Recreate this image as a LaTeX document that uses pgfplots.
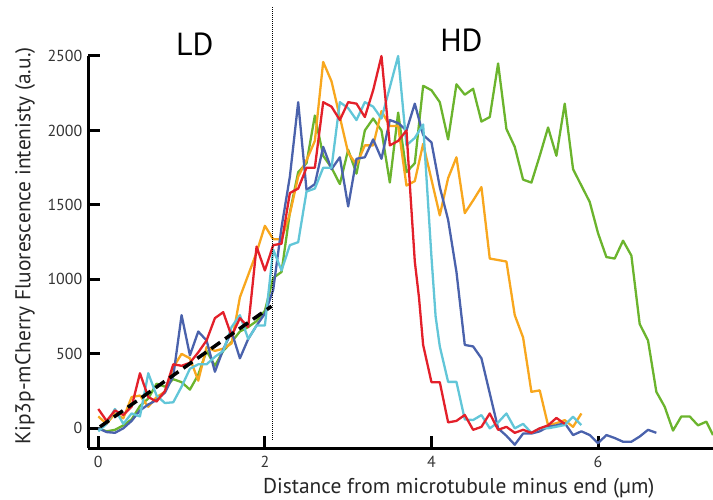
\documentclass[border=0pt]{standalone}
\usepackage{fontspec}
\setmainfont{PT Sans}
\usepackage{pgfplots}
\pgfplotsset{compat=1.18}

\definecolor{cblue}{HTML}{4A62AC}
\definecolor{cred}{HTML}{E3202A}
\definecolor{corange}{HTML}{F8A71E}
\definecolor{cgreen}{HTML}{6BB42D}
\definecolor{ccyan}{HTML}{62C6D8}
\definecolor{tickgray}{HTML}{333333}

\begin{document}
\begin{tikzpicture}
\useasboundingbox (-88.3bp,-51.7bp) rectangle (624.7bp,448.3bp);
\begin{axis}[
  at={(0,0)}, anchor=south west,
  scale only axis, width=624.7bp, height=392.3bp,
  xmin=-0.12, xmax=7.38, ymin=-134, ymax=2500,
  axis x line*=bottom, axis y line*=left,
  axis line style={line width=3bp, -, black},
  tick align=inside,
  major tick length=12bp,
  tick style={line width=3bp, black},
  xtick={0,2,4,6}, ytick={0,500,1000,1500,2000,2500},
  minor tick num=0,
  /pgf/number format/assume math mode=true,
  /pgf/number format/1000 sep={},
  tick label style={font=\fontsize{16}{16}\selectfont, text=tickgray},
  yticklabel style={xshift=-2.5bp},
  xticklabel style={yshift=-4bp},
  xlabel={Distance from microtubule minus end (µm)},
  ylabel={Kip3p-mCherry Fluorescence intenisty (a.u.)},
  label style={font=\fontsize{21.5}{21.5}\selectfont, text=black!85},
  xlabel style={at={(axis description cs:0.593,-0.101)}, anchor=center},
  ylabel style={at={(axis description cs:-0.101,0.516)}, anchor=center, rotate=0},
  clip=false,
  every axis plot/.append style={line width=2.3bp, line join=round},
]

% green
\addplot[cgreen] coordinates {
(0.0,0) (0.1,-20) (0.2,-10) (0.3,20) (0.4,60) (0.5,150) (0.6,200) (0.7,300) (0.8,280) (0.9,330)
(1.0,310) (1.1,260) (1.2,360) (1.3,520) (1.4,420) (1.5,520) (1.6,580) (1.7,650) (1.8,680) (1.9,720)
(2.0,790) (2.1,1010) (2.2,1050) (2.3,1450) (2.4,1720) (2.5,1780) (2.6,2100) (2.7,1830) (2.8,1750) (2.9,1640)
(3.0,1870) (3.1,1710) (3.2,2000) (3.3,2080) (3.4,2000) (3.5,1650) (3.6,2120) (3.7,1720) (3.8,1780) (3.9,2300)
(4.0,2270) (4.1,2190) (4.2,1940) (4.3,2310) (4.4,2240) (4.5,2280) (4.6,2060) (4.7,2090) (4.8,2450) (4.9,2010)
(5.0,1890) (5.1,1670) (5.2,1650) (5.3,1830) (5.4,2020) (5.5,1830) (5.6,2180) (5.7,1740) (5.8,1630) (5.9,1520)
(6.0,1310) (6.1,1150) (6.2,1140) (6.3,1260) (6.4,1160) (6.5,700) (6.6,590) (6.7,245) (6.8,145) (6.9,-15)
(7.0,80) (7.1,80) (7.2,20) (7.3,45) (7.38,-45)
};

% orange
\addplot[corange] coordinates {
(0.0,80) (0.1,30) (0.2,100) (0.3,67) (0.4,210) (0.5,220) (0.6,145) (0.7,210) (0.8,245) (0.9,410)
(1.0,500) (1.1,470) (1.2,320) (1.3,545) (1.4,520) (1.5,535) (1.6,570) (1.7,880) (1.8,1030) (1.9,1180)
(2.0,1360) (2.1,1270) (2.2,1270) (2.3,1440) (2.4,1690) (2.5,1800) (2.6,1930) (2.7,2460) (2.8,2330) (2.9,2090)
(3.0,1850) (3.1,1770) (3.2,1900) (3.3,1900) (3.4,2130) (3.5,2030) (3.6,2030) (3.7,1630) (3.8,1660) (3.9,1910)
(4.0,1670) (4.1,1430) (4.2,1680) (4.3,1820) (4.4,1445) (4.5,1530) (4.6,1620) (4.7,1140) (4.8,1130) (4.9,1120)
(5.0,760) (5.1,610) (5.2,245) (5.3,255) (5.4,20) (5.5,35) (5.6,55) (5.7,10) (5.8,100)
};

% blue
\addplot[cblue] coordinates {
(0.0,0) (0.1,-25) (0.2,-30) (0.3,0) (0.4,50) (0.5,120) (0.6,160) (0.7,190) (0.8,240) (0.9,350)
(1.0,760) (1.1,490) (1.2,650) (1.3,590) (1.4,380) (1.5,530) (1.6,650) (1.7,470) (1.8,600) (1.9,690)
(2.0,770) (2.1,930) (2.2,1350) (2.3,1690) (2.4,2190) (2.5,1600) (2.6,1640) (2.7,1890) (2.8,1740) (2.9,1820)
(3.0,1490) (3.1,1810) (3.2,1820) (3.3,1940) (3.4,1810) (3.5,2070) (3.6,2050) (3.7,2000) (3.8,2180) (3.9,1970)
(4.0,1920) (4.1,1620) (4.2,1400) (4.3,1050) (4.4,560) (4.5,550) (4.6,470) (4.7,235) (4.8,0) (4.9,-50)
(5.0,-110) (5.1,-35) (5.2,-35) (5.3,-20) (5.4,10) (5.5,20) (5.6,35) (5.7,-45) (5.8,-20) (5.9,-45)
(6.0,-100) (6.1,-45) (6.2,-65) (6.3,-90) (6.4,-90) (6.5,-55) (6.6,-10) (6.7,-30)
};

% cyan
\addplot[ccyan] coordinates {
(0.0,-20) (0.1,30) (0.2,130) (0.3,30) (0.4,100) (0.5,80) (0.6,370) (0.7,220) (0.8,170) (0.9,175)
(1.0,280) (1.1,400) (1.2,430) (1.3,430) (1.4,480) (1.5,520) (1.6,680) (1.7,760) (1.8,600) (1.9,690)
(2.0,690) (2.1,1200) (2.2,1060) (2.3,1230) (2.4,1250) (2.5,1590) (2.6,1610) (2.7,1750) (2.8,1750) (2.9,2190)
(3.0,2150) (3.1,2070) (3.2,2190) (3.3,2160) (3.4,2080) (3.5,2290) (3.6,2500) (3.7,1900) (3.8,1950) (3.9,2040)
(4.0,1150) (4.05,750) (4.1,550) (4.2,312) (4.3,312) (4.4,60) (4.5,56) (4.6,89) (4.7,0) (4.8,40)
(4.9,100) (5.0,0) (5.1,30) (5.2,-30) (5.3,0) (5.4,0) (5.5,11) (5.6,22) (5.7,78) (5.8,22)
};

% red
\addplot[cred] coordinates {
(0.0,130) (0.1,50) (0.2,120) (0.3,90) (0.4,145) (0.5,370) (0.6,210) (0.7,180) (0.8,250) (0.9,430)
(1.0,420) (1.1,440) (1.2,510) (1.3,590) (1.4,740) (1.5,780) (1.6,620) (1.7,740) (1.8,680) (1.9,1220)
(2.0,1060) (2.1,1230) (2.2,1240) (2.3,1580) (2.4,1610) (2.5,1750) (2.6,1750) (2.7,2190) (2.8,2160) (2.9,2070)
(3.0,2190) (3.1,2180) (3.2,2090) (3.3,2270) (3.4,2500) (3.5,1900) (3.6,1930) (3.7,2000) (3.75,1550) (3.8,1120)
(3.85,880) (3.9,560) (4.0,310) (4.1,310) (4.2,40) (4.3,50) (4.4,90) (4.5,-10) (4.6,10) (4.7,100)
(4.8,-10) (4.9,10) (5.0,-30) (5.1,-10) (5.2,-30) (5.3,0) (5.4,20) (5.5,70) (5.6,30)
};

% dashed linear fit
\addplot[black, line width=3.5bp, dash pattern=on 11bp off 6bp, line cap=butt] coordinates {(0.02,10) (2.08,820)};

% dotted boundary
\addplot[black, line width=0.8bp, dash pattern=on 0.8bp off 1.2bp] coordinates {(2.088,-78) (2.088,2830)};

\node[font=\fontsize{32}{32}\selectfont, anchor=center] at (axis cs:1.16,2579) {LD};
\node[font=\fontsize{32}{32}\selectfont, anchor=center] at (axis cs:4.36,2603) {HD};
\end{axis}
\end{tikzpicture}
\end{document}
